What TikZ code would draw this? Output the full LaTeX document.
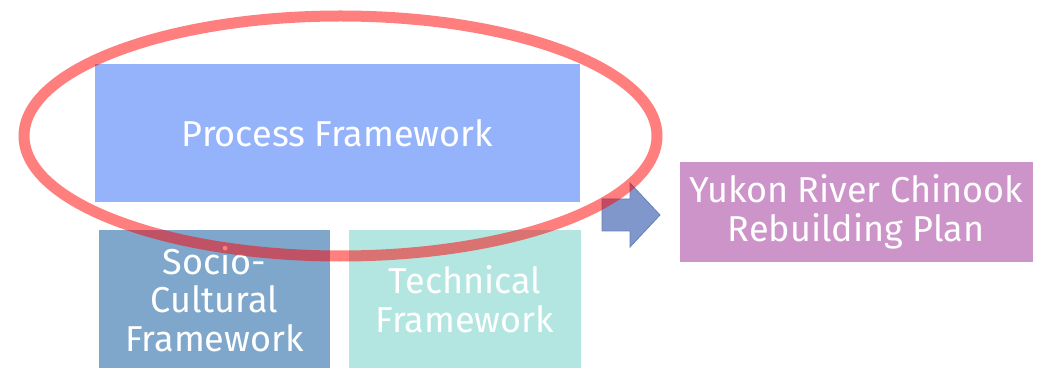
\documentclass[tikz,border=0pt]{standalone}
\usepackage{fontspec}
\setmainfont{Fira Sans}
\usetikzlibrary{positioning}
\definecolor{processblue}{HTML}{95B3FB}
\definecolor{socioblue}{HTML}{7FA7CB}
\definecolor{techteal}{HTML}{B3E6E1}
\definecolor{planpink}{HTML}{CC94C8}
\definecolor{arrowblue}{HTML}{7F97CB}
\definecolor{arrowedge}{HTML}{6A80B6}
\tikzset{
  frame/.style={
    rectangle, inner sep=0pt, align=center, text=white,
    font=\fontsize{27}{29}\selectfont
  },
  process/.style={frame, fill=processblue, minimum width=363.75pt, minimum height=103.5pt},
  socio/.style={frame, fill=socioblue, minimum width=173.25pt, minimum height=103.5pt},
  technical/.style={frame, fill=techteal, minimum width=174pt, minimum height=103.5pt},
  plan/.style={frame, fill=planpink, minimum width=264.75pt, minimum height=75pt},
  blockarrow/.style={fill=arrowblue, draw=arrowedge, line width=0.6pt},
  highlight/.style={draw=red, draw opacity=0.5, line width=8.25pt}
}

\begin{document}
\begin{tikzpicture}[x=0.75pt, y=-0.75pt]
  \useasboundingbox (0,0) rectangle (1041,370);

  % Framework boxes
  \node[process] (process) at (337.5,133) {Process Framework};
  \node[socio] (socio) at (214.5,299) {Socio-\\Cultural\\Framework};
  \node[technical] (technical) at (465,299) {Technical\\Framework};

  % Plan box
  \node[plan] (plan) at (856,212) {Yukon River Chinook\\Rebuilding Plan};

  % Block arrow
  \draw[blockarrow] (602,199) -- (630,199) -- (630,183) -- (660,215)
    -- (630,247) -- (630,231) -- (602,231) -- cycle;

  % Highlight
  \draw[highlight] (340.5,136) ellipse [x radius=316.5, y radius=120];
\end{tikzpicture}
\end{document}
